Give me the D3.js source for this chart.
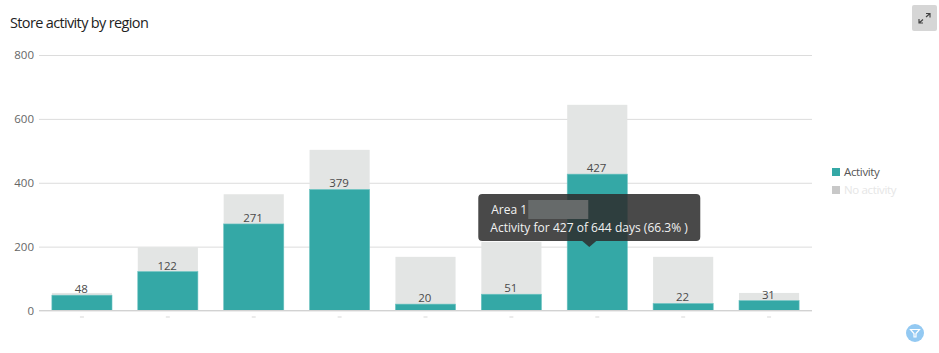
<!DOCTYPE html>
<html>
<head>
<meta charset="utf-8">
<script src="https://cdn.jsdelivr.net/npm/d3@7"></script>
<style>
  html, body { margin: 0; padding: 0; background: #fff; overflow: hidden; }
  text { font-family: "Open Sans", sans-serif; }
</style>
</head>
<body>
<svg id="chart" width="939" height="353"></svg>
<script>
// region names are blanked out in the source picture, only slots are kept
var regions = ["r1", "r2", "r3", "r4", "r5", "r6", "r7", "r8", "r9"];
var activity = [48, 122, 271, 379, 20, 51, 427, 22, 31];
var totals = [55, 198, 364, 503, 168, 215, 644, 168, 55];
var yTicks = [0, 200, 400, 600, 800];
var legendLabels = ["Activity", "No activity"];

var margin = {top: 55, right: 127, bottom: 42.5, left: 39};
var width = 939 - margin.left - margin.right,
    height = 353 - margin.top - margin.bottom;

var svg = d3.select("#chart");
var g = svg.append("g").attr("transform", "translate(" + margin.left + "," + margin.top + ")");

var x = d3.scaleBand().domain(regions).range([0, width]).paddingInner(0.3).paddingOuter(0.15);
var y = d3.scaleLinear().domain([0, 800]).range([height, 0]);

svg.append("text")
  .attr("x", 10).attr("y", 28)
  .attr("font-size", 14.5).attr("letter-spacing", -0.65)
  .attr("fill", "#222")
  .text("Store activity by region");

// grid + y axis
var yAxis = g.append("g")
  .call(d3.axisLeft(y).tickValues(yTicks).tickSize(-width).tickPadding(5));
yAxis.select(".domain").remove();
yAxis.selectAll("line").attr("stroke", "#dcdcdc").attr("stroke-width", 1);
yAxis.selectAll("text").attr("fill", "#666").attr("font-size", 11.5)
  .style("font-family", '"Open Sans", sans-serif');

// no activity part
g.selectAll(".total").data(regions).enter().append("rect")
  .attr("class", "total")
  .attr("x", function(d) { return x(d); })
  .attr("y", function(d, i) { return y(totals[i]); })
  .attr("width", x.bandwidth())
  .attr("height", function(d, i) { return y(activity[i]) - y(totals[i]); })
  .attr("fill", "#e3e5e4");

// activity part
g.selectAll(".act").data(regions).enter().append("rect")
  .attr("class", "act")
  .attr("x", function(d) { return x(d); })
  .attr("y", function(d, i) { return y(activity[i]); })
  .attr("width", x.bandwidth())
  .attr("height", function(d, i) { return y(0) - y(activity[i]); })
  .attr("fill", "#34a8a6")
  .attr("stroke", "#6cc2c0").attr("stroke-width", 0.6);

g.selectAll(".val").data(regions).enter().append("text")
  .attr("class", "val")
  .attr("x", function(d) { return x(d) + x.bandwidth() / 2 - 0.7; })
  .attr("y", function(d, i) { return y(activity[i]) - 2; })
  .attr("text-anchor", "middle")
  .attr("font-size", 11.5).attr("letter-spacing", -0.1)
  .attr("fill", "#4a4a4a")
  .text(function(d, i) { return activity[i]; });

// baseline
g.append("line")
  .attr("x1", 0).attr("x2", width)
  .attr("y1", y(0)).attr("y2", y(0))
  .attr("stroke", "#d2d2d2");

// what is left of the masked x labels
g.selectAll(".stub").data(regions).enter().append("rect")
  .attr("class", "stub")
  .attr("x", function(d) { return x(d) + x.bandwidth() / 2 - 2; })
  .attr("y", height + 6)
  .attr("width", 4).attr("height", 1)
  .attr("fill", "#d8d8d8");

// legend
var legend = svg.selectAll(".legend").data(legendLabels).enter().append("g")
  .attr("class", "legend")
  .attr("transform", function(d, i) { return "translate(832," + (168 + i * 18) + ")"; });
legend.append("rect")
  .attr("width", 8).attr("height", 8)
  .attr("fill", function(d, i) { return i == 0 ? "#34a8a6" : "#c8c8c8"; });
legend.append("text")
  .attr("x", 12).attr("y", 8)
  .attr("font-size", 11.5).attr("letter-spacing", -0.35)
  .attr("fill", function(d, i) { return i == 0 ? "#555" : "#e6e6e6"; })
  .text(function(d) { return d; });

// tooltip on the seventh bar
var tipX = margin.left + x("r7") + x.bandwidth() / 2,
    tipBottom = 241;
var tip = svg.append("g").attr("transform", "translate(" + tipX + "," + tipBottom + ")");
tip.append("rect")
  .attr("x", -119).attr("y", -47)
  .attr("width", 222).attr("height", 47)
  .attr("rx", 4)
  .attr("fill", "#2e2e2e").attr("fill-opacity", 0.87);
tip.append("path")
  .attr("d", "M-15,0L-1,0L-8,6Z")
  .attr("fill", "#2e2e2e").attr("fill-opacity", 0.87);
tip.append("rect")
  .attr("x", -69).attr("y", -41)
  .attr("width", 60).attr("height", 19)
  .attr("fill", "#666a6a");
tip.append("text")
  .attr("x", -106).attr("y", -27)
  .attr("font-size", 12).attr("font-weight", 500).attr("fill", "#f2f2f2")
  .text("Area 1");
tip.append("text")
  .attr("x", -107).attr("y", -9)
  .attr("font-size", 12).attr("font-weight", 500).attr("letter-spacing", 0.02).attr("fill", "#f2f2f2")
  .text("Activity for " + activity[6] + " of " + totals[6] + " days (" + d3.format(".1f")(activity[6] / totals[6] * 100) + "% )");

// expand button
var expand = svg.append("g").attr("transform", "translate(912,5)");
expand.append("rect").attr("width", 25).attr("height", 26).attr("rx", 2).attr("fill", "#d6d6d6");
expand.append("path")
  .attr("d", "M14,9.5L18,9.5L18,13.5M18,9.5L14,13 M7,15L7,19L11,19M7,19L11,15.5")
  .attr("transform", "translate(0,-1)")
  .attr("fill", "none").attr("stroke", "#444").attr("stroke-width", 1.2);

// filter button
var filter = svg.append("g").attr("transform", "translate(915,333)");
filter.append("circle").attr("r", 9).attr("fill", "#93c9f2");
filter.append("path")
  .attr("d", "M-4.5,-3.5L4.5,-3.5L1,0.5L1,4L-1,4L-1,0.5Z")
  .attr("fill", "none").attr("stroke", "#fff").attr("stroke-width", 1.2);
</script>
</body>
</html>
